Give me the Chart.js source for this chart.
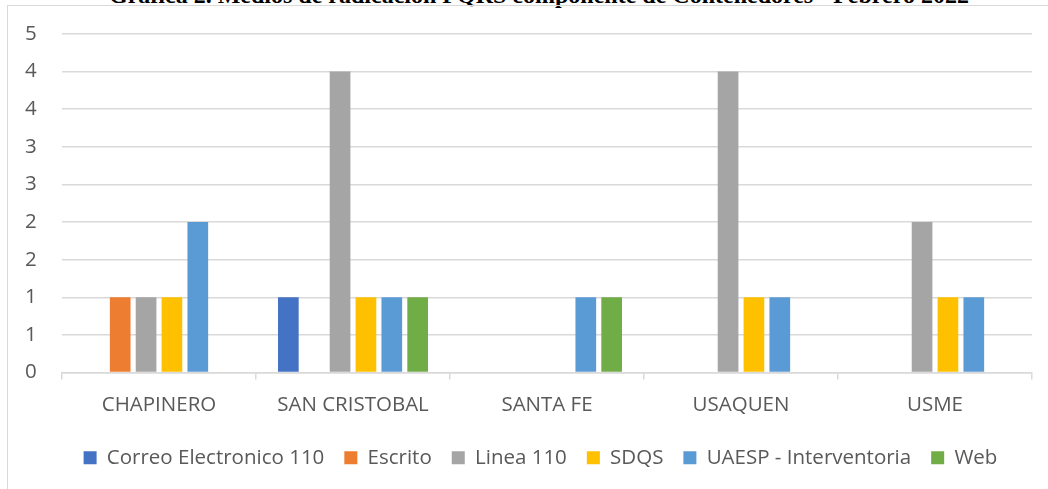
<!DOCTYPE html>
<html>
<head>
<meta charset="utf-8">
<script src="https://cdn.jsdelivr.net/npm/chart.js@4"></script>
<style>
  body { margin: 0; background: #fff; overflow: hidden; }
  #title {
    position: absolute; left: 0; top: -17px; width: 1078px; text-align: center;
    font: bold 24px "Liberation Serif", "DejaVu Serif", serif; color: #000; line-height: 24px;
    white-space: nowrap;
  }
  #box {
    position: absolute; left: 7px; top: 5px; width: 1041px; height: 484px;
    border-left: 1px solid #d9d9d9; border-top: 1px solid #d9d9d9;
  }
</style>
</head>
<body>
<div id="title">Gráfica 2. Medios de radicación PQRS componente de Contenedores - Febrero 2022</div>
<div id="box"><canvas id="myChart" width="1040" height="483"></canvas></div>
<script>
const localidades = ['CHAPINERO', 'SAN CRISTOBAL', 'SANTA FE', 'USAQUEN', 'USME'];
const medios = ['Correo Electronico 110', 'Escrito', 'Linea 110', 'SDQS', 'UAESP - Interventoria', 'Web'];
const correo = [null, 1, null, null, null];
const escrito = [1, null, null, null, null];
const linea = [1, 4, null, 4, 2];
const sdqs = [1, 1, null, 1, 1];
const uaesp = [2, 1, 1, 1, 1];
const web = [null, 1, 1, null, null];
const colores = ['#4472C4', '#ED7D31', '#A5A5A5', '#FFC000', '#5B9BD5', '#70AD47'];

const series = [correo, escrito, linea, sdqs, uaesp, web];
const font = { family: 'Open Sans', size: 20.5 };

const data = {
    labels: localidades,
    datasets: series.map(function(s, i) {
        return {
            label: medios[i],
            data: s,
            backgroundColor: colores[i],
            borderWidth: 0,
            categoryPercentage: 0.8,
            barPercentage: 0.8
        };
    })
};

// the original chart frame is wider than the window, so its legend sits a bit to the right
const shiftLegend = {
    id: 'shiftLegend',
    afterLayout: function(chart) {
        chart.legend.left += 12;
        chart.legend.right += 12;
    }
};

const config = {
    type: 'bar',
    data: data,
    plugins: [shiftLegend],
    options: {
        responsive: false,
        animation: false,
        layout: { padding: { left: 17, right: 16, top: 28, bottom: 11 } },
        plugins: {
            legend: {
                position: 'bottom',
                labels: {
                    boxWidth: 13, boxHeight: 13, padding: 20,
                    color: '#595959', font: font
                }
            },
            tooltip: { enabled: false }
        },
        scales: {
            x: {
                grid: { drawOnChartArea: false, color: '#d9d9d9', lineWidth: 1.5, tickLength: 7, offset: true },
                border: { color: '#d9d9d9', width: 1.5 },
                ticks: { color: '#595959', font: font, padding: 13 },
                afterFit: function(scale) { scale.height = 55; }
            },
            y: {
                min: 0, max: 4.5,
                grid: { color: '#d9d9d9', lineWidth: 1.5, drawTicks: false },
                border: { display: false },
                ticks: {
                    stepSize: 0.5, color: '#595959', font: font, padding: 0, crossAlign: 'far',
                    callback: function(v) { return Math.round(v); }
                },
                afterFit: function(scale) { scale.width = 37; }
            }
        }
    }
};

const myChart = new Chart(document.getElementById('myChart'), config);
</script>
</body>
</html>
